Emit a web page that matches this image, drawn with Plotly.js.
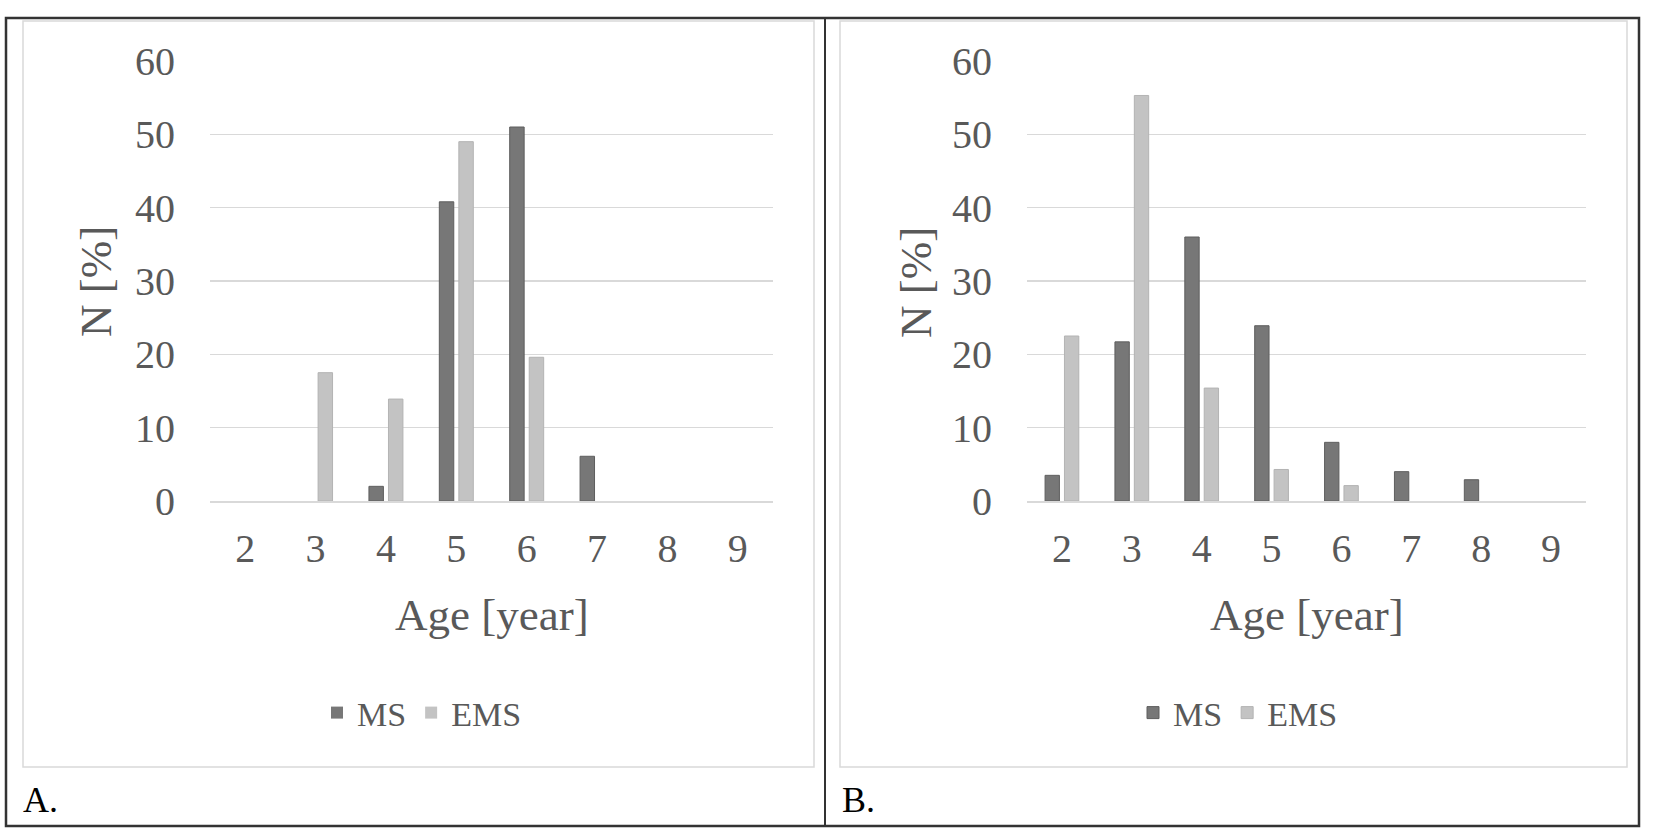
<!DOCTYPE html>
<html>
<head>
<meta charset="utf-8">
<script src="https://cdn.plot.ly/plotly-3.0.1.min.js"></script>
<style>html,body{margin:0;padding:0;background:#fff;}#chart{width:1654px;height:837px;}</style>
</head>
<body>
<div id="chart"></div>
<script>
// ---- data ----
const ages = ['2','3','4','5','6','7','8','9'];
const msA  = [0, 0, 2, 40.8, 51, 6.1, 0, 0];
const emsA = [0, 17.5, 13.9, 49, 19.6, 0, 0, 0];
const msB  = [3.5, 21.7, 36, 23.9, 8, 4, 2.9, 0];
const emsB = [22.5, 55.3, 15.4, 4.3, 2.1, 0, 0, 0];
const seriesNames = ['MS', 'EMS'];
const yTicks = [0, 10, 20, 30, 40, 50, 60];
const xTitle = 'Age [year]';
const yTitle = 'N [%]';
const panelLabels = ['A.', 'B.'];

// ---- layout helpers ----
const W = 1654, H = 837;
const px = x => x / W, py = y => 1 - y / H;
const FONT = 'Liberation Serif, Times New Roman, serif';
const TXT = '#595959';
const MS_COL = '#777777', MS_LINE = '#5e5e5e';
const EMS_COL = '#c3c3c3', EMS_LINE = '#b3b3b3';

function bar(vals, name, fill, line, xa, ya, leg) {
  return {
    type: 'bar', x: ages, y: vals, name: name, xaxis: xa, yaxis: ya, legend: leg,
    marker: {color: fill, line: {color: line, width: vals.map(v => v > 0 ? 1 : 0)}},
    hoverinfo: 'x+y+name'
  };
}

const data = [
  bar(msA, seriesNames[0], MS_COL, MS_LINE, 'x', 'y', 'legend'),
  bar(emsA, seriesNames[1], EMS_COL, EMS_LINE, 'x', 'y', 'legend'),
  bar(msB, seriesNames[0], MS_COL, MS_LINE, 'x2', 'y2', 'legend2'),
  bar(emsB, seriesNames[1], EMS_COL, EMS_LINE, 'x2', 'y2', 'legend2')
];

const plotTop = 61, plotBot = 501;
const axA = [210, 773], axB = [1027, 1586];

function xax(dom, anchor) {
  return {
    domain: [px(dom[0]), px(dom[1])], anchor: anchor, type: 'category',
    showgrid: false, showline: true, linecolor: '#d9d9d9', linewidth: 1.5,
    ticks: '', ticklabelstandoff: 11, zeroline: false,
    tickfont: {family: FONT, size: 40, color: TXT}, fixedrange: true
  };
}
function yax(anchor) {
  return {
    domain: [py(plotBot), py(plotTop)], anchor: anchor, range: [0, 60],
    tickvals: yTicks, showgrid: true, gridcolor: '#d9d9d9', gridwidth: 1.5,
    zeroline: false, showline: false, ticks: '', ticklabelstandoff: 34,
    tickfont: {family: FONT, size: 40, color: TXT}, fixedrange: true
  };
}

function legendAt(cx) {
  return {
    orientation: 'h', x: px(cx), y: py(713), xanchor: 'center', yanchor: 'middle',
    font: {family: FONT, size: 34, color: TXT}, bgcolor: 'rgba(0,0,0,0)',
    itemclick: false, itemdoubleclick: false
  };
}

const annotations = [];
[[axA, 96, 21], [axB, 916, 840]].forEach(([ax, yx, lx], i) => {
  annotations.push({
    text: xTitle, xref: 'paper', yref: 'paper', x: px((ax[0] + ax[1]) / 2), y: py(615),
    xanchor: 'center', yanchor: 'middle', showarrow: false,
    font: {family: FONT, size: 45, color: TXT}
  });
  annotations.push({
    text: yTitle, xref: 'paper', yref: 'paper', x: px(yx), y: py(282), textangle: -90,
    xanchor: 'center', yanchor: 'middle', showarrow: false,
    font: {family: FONT, size: 45, color: TXT}
  });
  annotations.push({
    text: panelLabels[i], xref: 'paper', yref: 'paper', x: px(lx), y: py(800),
    xanchor: 'left', yanchor: 'middle', showarrow: false,
    font: {family: FONT, size: 36, color: '#000'}
  });
});

const shapes = [
  {type: 'rect', xref: 'paper', yref: 'paper', x0: px(23), x1: px(814), y0: py(21), y1: py(767),
   line: {color: '#d9d9d9', width: 1.5}, layer: 'below'},
  {type: 'rect', xref: 'paper', yref: 'paper', x0: px(840), x1: px(1627), y0: py(21), y1: py(767),
   line: {color: '#d9d9d9', width: 1.5}, layer: 'below'},
  {type: 'rect', xref: 'paper', yref: 'paper', x0: px(6), x1: px(1639), y0: py(18), y1: py(826),
   line: {color: '#333', width: 2.5}},
  {type: 'line', xref: 'paper', yref: 'paper', x0: px(825), x1: px(825), y0: py(18), y1: py(826),
   line: {color: '#333', width: 2}}
];

const layout = {
  width: W, height: H, margin: {l: 0, r: 0, t: 0, b: 0},
  paper_bgcolor: '#fff', plot_bgcolor: 'rgba(0,0,0,0)',
  barmode: 'group', bargap: 0.445, bargroupgap: 0.26,
  xaxis: xax(axA, 'y'), yaxis: yax('x'),
  xaxis2: xax(axB, 'y2'), yaxis2: yax('x2'),
  legend: legendAt(422), legend2: legendAt(1238),
  annotations: annotations, shapes: shapes, showlegend: true
};

Plotly.newPlot('chart', data, layout, {displayModeBar: false, staticPlot: true});
</script>
</body>
</html>
